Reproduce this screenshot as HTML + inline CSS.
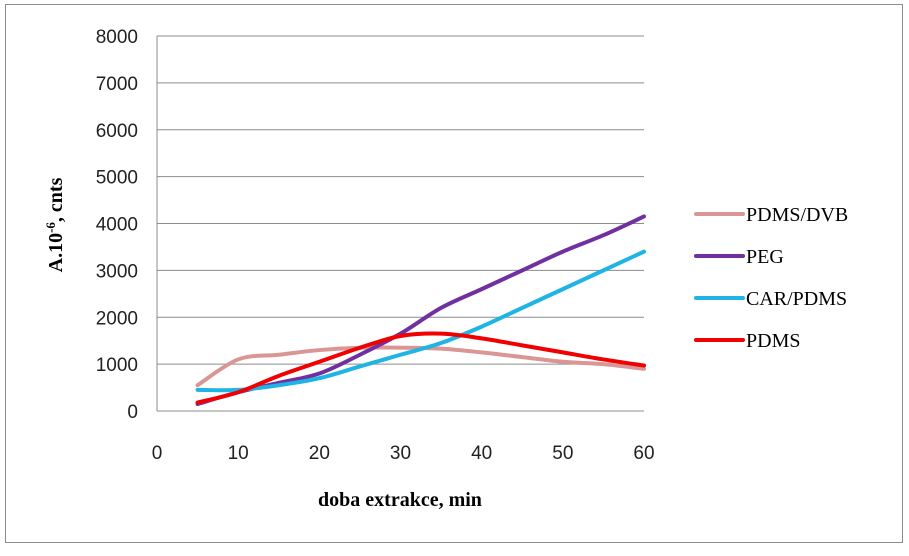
<!DOCTYPE html>
<html><head><meta charset="utf-8"><style>
html,body{margin:0;padding:0;background:#fff;}
svg text{font-family:"Liberation Serif",serif;}
svg text.tk{font-family:"Liberation Sans",sans-serif;}
</style></head><body>
<svg width="909" height="551" viewBox="0 0 909 551">
<rect x="5.5" y="4.5" width="897" height="538" fill="#fff" stroke="#8c8c8c"/>
<g id="grid"></g><g id="axes"></g><g id="series"></g><g id="legend"></g>
<text x="62" y="225" transform="rotate(-90 62 225)" text-anchor="middle" font-size="20" font-weight="bold">A.10<tspan dy="-7" font-size="13">-6</tspan><tspan dy="7">, cnts</tspan></text>
<text x="400" y="506" text-anchor="middle" font-size="20" font-weight="bold">doba extrakce, min</text>
</svg>
<script>
const xVals=[5,10,15,20,25,30,35,40,45,50,55,60];
const seriesNames=["PDMS/DVB","PEG","CAR/PDMS","PDMS"];
const pdmsDvb=[550,1100,1200,1300,1350,1350,1330,1250,1150,1050,1000,900];
const peg=[150,400,600,800,1200,1650,2200,2600,3000,3400,3750,4150];
const carPdms=[450,450,550,700,950,1200,1450,1800,2200,2600,3000,3400];
const pdms=[180,400,750,1050,1350,1600,1650,1550,1400,1250,1100,970];
const yTicks=[0,1000,2000,3000,4000,5000,6000,7000,8000];
const xTicks=[0,10,20,30,40,50,60];
const colors=["#d99694","#7030a0","#1fb4e4","#f00000"];
const NS="http://www.w3.org/2000/svg";
const X=v=>157+v*(644-157)/60, Y=v=>411-v*(411-36)/8000;
function mk(t,a,p){const e=document.createElementNS(NS,t);for(const k in a)e.setAttribute(k,a[k]);p.appendChild(e);return e;}
const grid=document.getElementById('grid'),axes=document.getElementById('axes'),ser=document.getElementById('series'),leg=document.getElementById('legend');
yTicks.forEach(t=>{
 if(t>0){const l=mk('line',{x1:157,x2:644,y1:Y(t),y2:Y(t),stroke:'#8c8c8c','stroke-width':1},grid);
 
 }
 const tx=mk('text',{class:'tk',x:138,y:Y(t)+7,'text-anchor':'end','font-size':19,fill:'#222'},axes);tx.textContent=t;
 
 
});
xTicks.forEach(t=>{const tx=mk('text',{class:'tk',x:X(t),y:459,'text-anchor':'middle','font-size':19,fill:'#222'},axes);tx.textContent=t;
 
 });
const ya=mk('line',{x1:157,x2:157,y1:36,y2:411,stroke:'#8c8c8c'},axes);


const xa=mk('line',{x1:157,x2:644,y1:411,y2:411,stroke:'#8c8c8c'},axes);


function smooth(pts){let d='M'+pts[0][0]+','+pts[0][1];
 for(let i=0;i<pts.length-1;i++){const p0=pts[i-1]||pts[i],p1=pts[i],p2=pts[i+1],p3=pts[i+2]||p2;
 const c1=[p1[0]+(p2[0]-p0[0])/6,p1[1]+(p2[1]-p0[1])/6],c2=[p2[0]-(p3[0]-p1[0])/6,p2[1]-(p3[1]-p1[1])/6];
 d+=' C'+c1+' '+c2+' '+p2;}return d;}
[pdmsDvb,peg,carPdms,pdms].forEach((s,i)=>{
 const p=mk('path',{d:smooth(s.map((v,j)=>[X(xVals[j]),Y(v)])),fill:'none',stroke:colors[i],'stroke-width':4,'stroke-linecap':'round'},ser);
 
 
 const ly=214+i*42;
 const g=mk('g',{},leg);
 
 
 mk('line',{x1:696,x2:743,y1:ly,y2:ly,stroke:colors[i],'stroke-width':4,'stroke-linecap':'round'},g);
 const t=mk('text',{x:746,y:ly+7,'font-size':20},g);t.textContent=seriesNames[i];
});
</script>
</body></html>
